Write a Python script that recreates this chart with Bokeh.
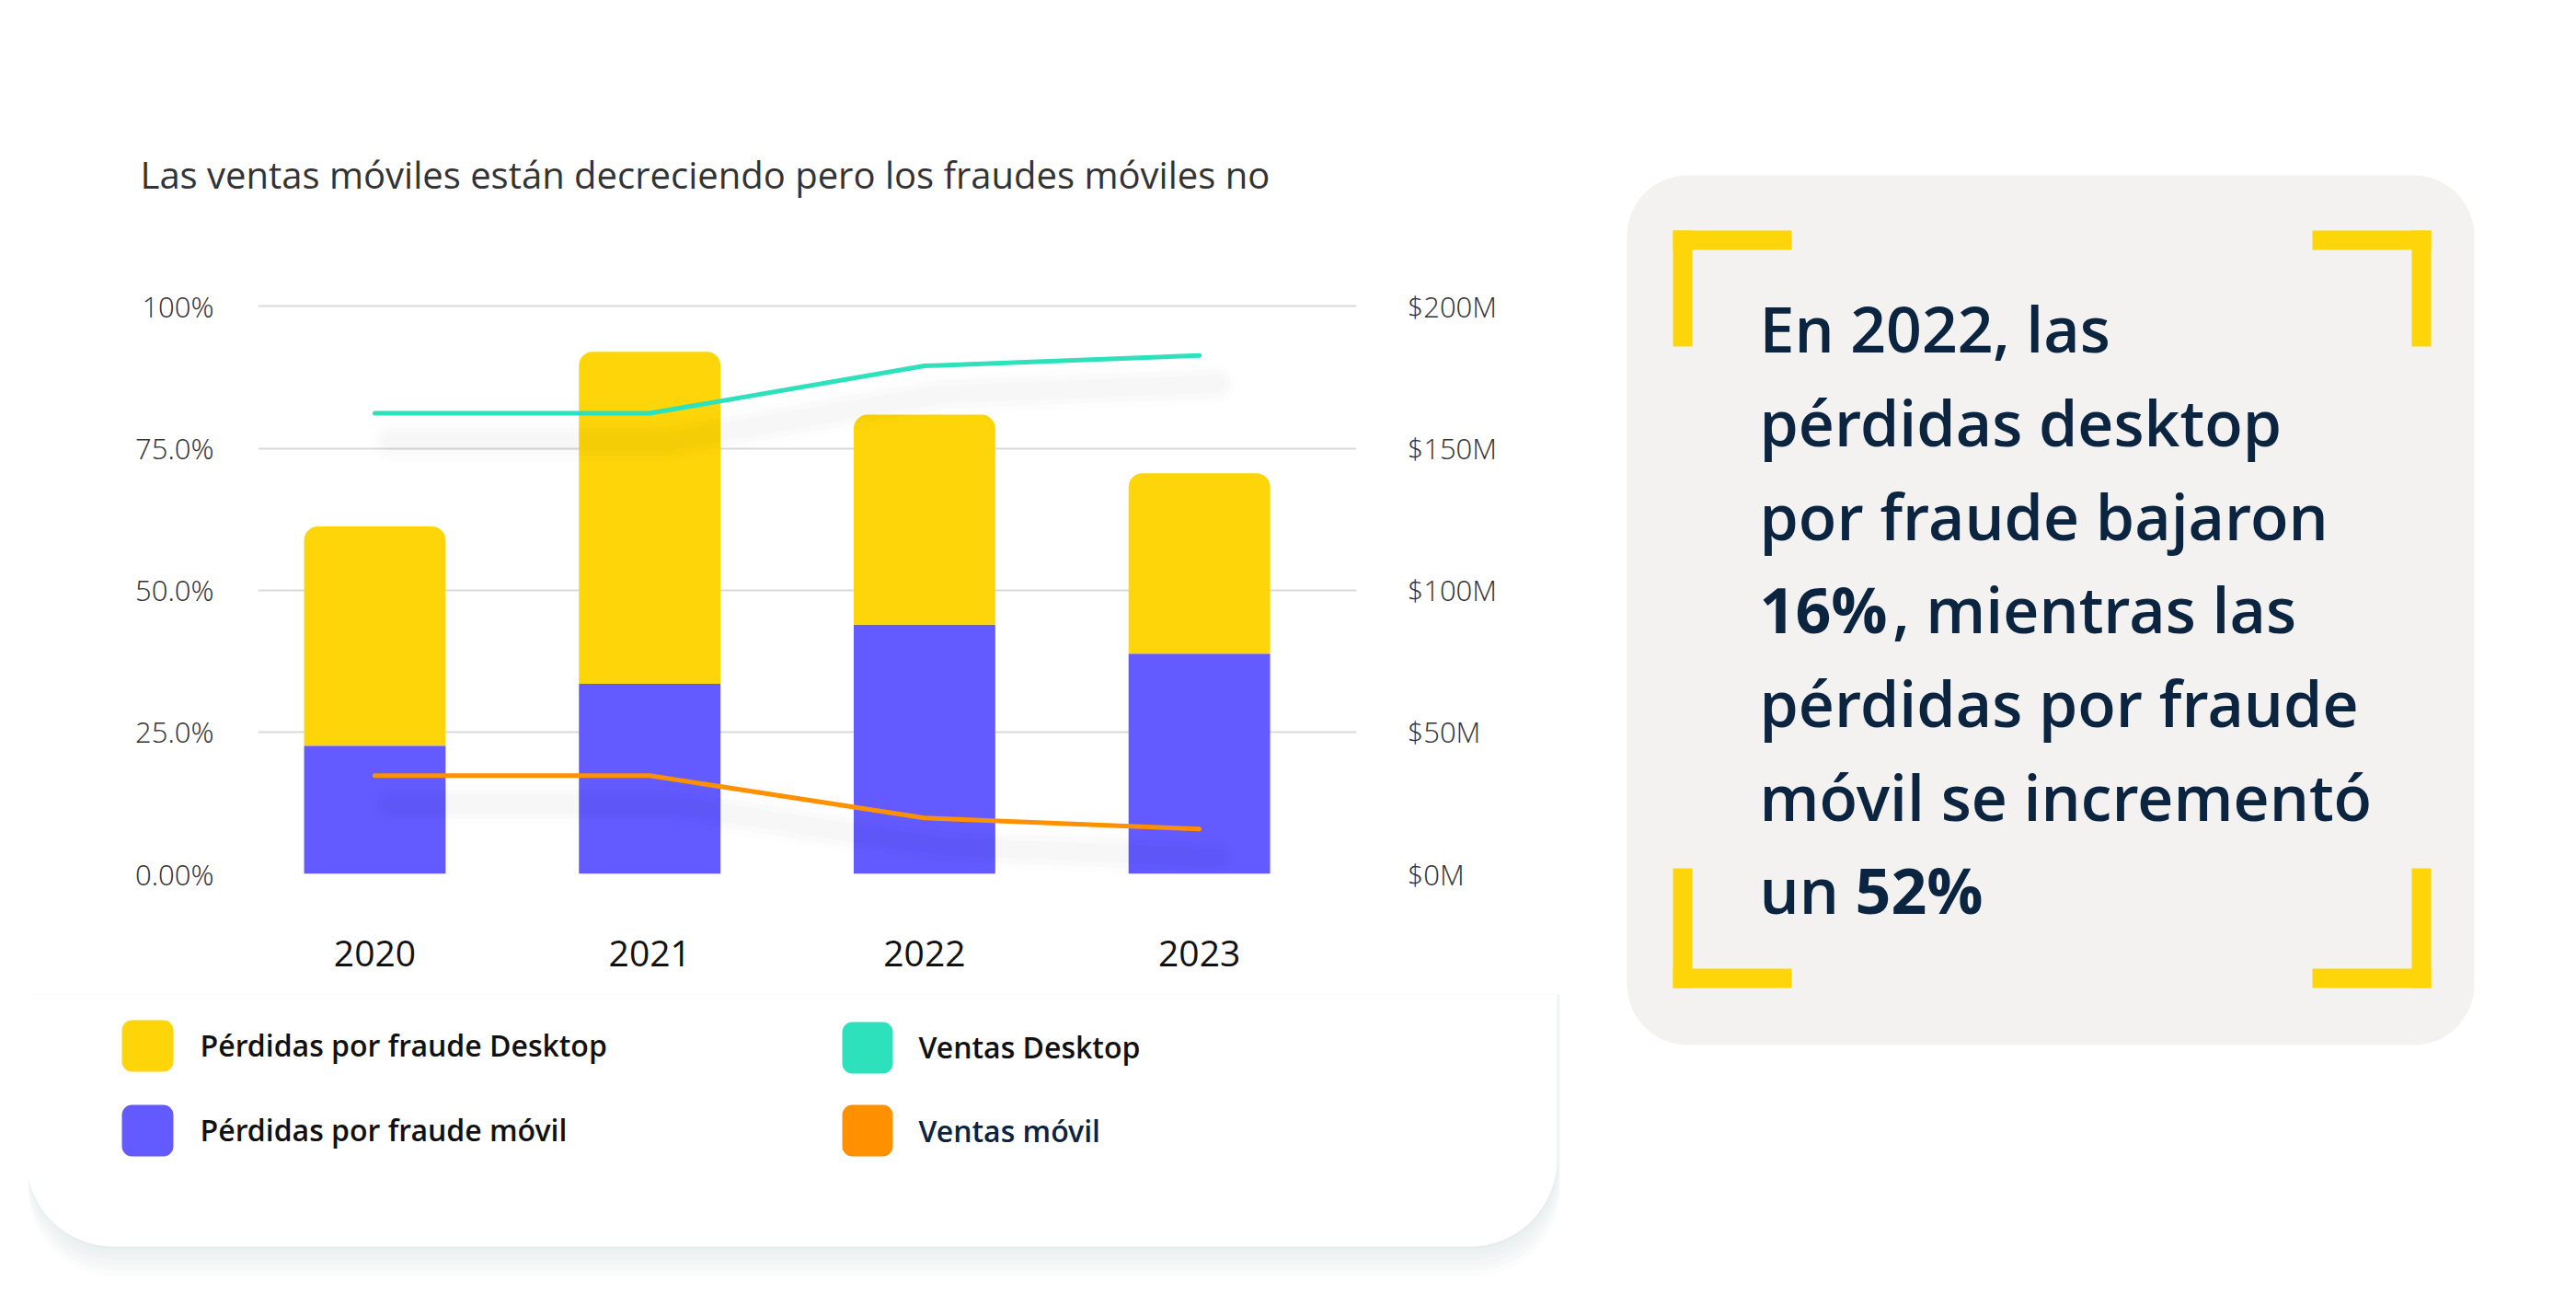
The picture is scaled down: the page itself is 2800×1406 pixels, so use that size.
from bokeh.plotting import figure
from bokeh.layouts import row, column
from bokeh.models import Range1d, LinearAxis, FixedTicker
from bokeh.core.properties import value
from bokeh.embed import file_html
from bokeh.resources import INLINE

# ---------------- data ----------------
years = ["2020", "2021", "2022", "2023"]
perdidas_movil = [22.6, 33.5, 43.9, 38.8]        # % (blue, bottom)
perdidas_desktop = [38.6, 58.5, 37.0, 31.8]      # % (yellow, stacked on top)
ventas_desktop = [162.3, 162.3, 179.0, 182.7]    # $M (teal line, right axis)
ventas_movil = [34.6, 34.6, 19.7, 15.8]          # $M (orange line, right axis)
pct_ticks = [0, 25, 50, 75, 100]
pct_labels = ["0.00%", "25.0%", "50.0%", "75.0%", "100%"]
money_ticks = [0, 50, 100, 150, 200]
money_labels = ["$0M", "$50M", "$100M", "$150M", "$200M"]
legend_labels = ["Pérdidas por fraude Desktop", "Pérdidas por fraude móvil",
                 "Ventas Desktop", "Ventas móvil"]
title_text = "Las ventas móviles están decreciendo pero los fraudes móviles no"
callout_lines = ["En 2022, las", "pérdidas desktop", "por fraude bajaron",
                 "16%", ", mientras las", "pérdidas por fraude",
                 "móvil se incrementó", "un ", "52%"]

# ---------------- style ----------------
YELLOW = "#FDD509"
BLUE = "#635BFF"
TEAL = "#2DE1BC"
ORANGE = "#FF9000"
NAVY = "#0B2440"
PANEL = "#F4F2F1"
GRID = "#D9D9D9"
SHADOW = "#7880A0"
LIGHT = "'Open Sans Light', 'Open Sans'"
SEMI = "'Open Sans SemiBold', 'Open Sans'"
BASE_FIX = 0.38   # svg text baseline correction (fraction of font size)

W, H = 2784, 1390
COL_W = 1740
TOP_H, CHART_H = 290, 790
CHART_TOP_PAD = 30


def canvas_fig(x0, x1, y0, y1):
    f = figure(width=x1 - x0, height=y1 - y0, x_range=Range1d(x0, x1),
               y_range=Range1d(y1, y0), output_backend="svg", toolbar_location=None,
               min_border=0, x_axis_type=None, y_axis_type=None, frame_align=False)
    f.title.visible = False
    f.outline_line_color = None
    f.background_fill_color = "white"
    f.border_fill_color = "white"
    return f


def txt(f, x, y, text, size, color, font, style="normal"):
    f.text(x=[x], y=[y - BASE_FIX * size], text=[text], text_font=value(font),
           text_font_size=f"{size}px", text_color=color, text_font_style=style,
           text_baseline="alphabetic", text_align="left")


CARD_L, CARD_R, CARD_T, CARD_B, CARD_RAD = 28, 1692, 83, 1354, 95

# ---------------- top part of the card (title) ----------------
top = canvas_fig(0, COL_W, 0, TOP_H)
top.quad(left=CARD_L, right=CARD_R, top=CARD_T, bottom=TOP_H + 50, fill_color="white",
         line_color=None, border_radius=(CARD_RAD, CARD_RAD, 0, 0))
txt(top, 152, 204, title_text, 40, "#333333", "Open Sans")

# ---------------- chart ----------------
xs = list(range(len(years)))
tops = [m + d for m, d in zip(perdidas_movil, perdidas_desktop)]

p = figure(width=COL_W, height=CHART_H, output_backend="svg", toolbar_location=None,
           x_range=Range1d(-0.425, 3.572), y_range=Range1d(0, 102),
           min_border_left=280, min_border_right=COL_W - 1474,
           min_border_top=CHART_TOP_PAD, min_border_bottom=131, frame_align=False)
p.title.visible = False
p.outline_line_color = None
p.background_fill_color = "white"
p.border_fill_color = "white"
p.extra_y_ranges = {"money": Range1d(0, 204)}

p.vbar(x=xs, width=0.515, bottom=0, top=perdidas_movil, fill_color=BLUE, line_color=None)
p.vbar(x=xs, width=0.515, bottom=perdidas_movil, top=tops, fill_color=YELLOW,
       line_color=None, border_radius=(15, 15, 0, 0))

for series in (ventas_desktop, ventas_movil):
    sx = [i + 0.06 for i in xs]
    sy = [v - 10 for v in series]
    for w, a in [(44, 0.009), (32, 0.011), (20, 0.013)]:
        p.line(sx, sy, y_range_name="money", line_color="black", line_alpha=a,
               line_width=w, line_cap="round", line_join="round")

p.line(xs, ventas_desktop, y_range_name="money", line_color=TEAL, line_width=5,
       line_cap="round", line_join="round")
p.line(xs, ventas_movil, y_range_name="money", line_color=ORANGE, line_width=5,
       line_cap="round", line_join="round")

p.xgrid.visible = False
p.ygrid.ticker = FixedTicker(ticks=pct_ticks)
p.ygrid.grid_line_color = GRID
p.ygrid.grid_line_width = 2

xa = p.xaxis[0]
xa.ticker = FixedTicker(ticks=xs)
xa.major_label_overrides = {i: y for i, y in zip(xs, years)}
xa.axis_line_color = None
xa.major_tick_line_color = None
xa.minor_tick_line_color = None
xa.major_label_text_font = "Open Sans"
xa.major_label_text_font_size = "39px"
xa.major_label_text_color = "#111111"
xa.major_label_standoff = 66

ya = p.yaxis[0]
ya.ticker = FixedTicker(ticks=pct_ticks)
ya.major_label_overrides = {t: s for t, s in zip(pct_ticks, pct_labels)}
ya.axis_line_color = None
ya.major_tick_line_color = None
ya.minor_tick_line_color = None
ya.major_label_text_font = LIGHT
ya.major_label_text_font_size = "31px"
ya.major_label_text_color = "#333333"
ya.major_label_standoff = 42

ra = LinearAxis(y_range_name="money", ticker=FixedTicker(ticks=money_ticks))
ra.major_label_overrides = {t: s for t, s in zip(money_ticks, money_labels)}
ra.axis_line_color = None
ra.major_tick_line_color = None
ra.minor_tick_line_color = None
ra.major_label_text_font = LIGHT
ra.major_label_text_font_size = "31px"
ra.major_label_text_color = "#333333"
ra.major_label_standoff = 49
p.add_layout(ra, "right")

# ---------------- bottom part of the card (legend) ----------------
y0b = TOP_H + CHART_H
bot = canvas_fig(0, COL_W, y0b, H)
for d in [32, 26, 20, 14, 8, 3]:
    bot.quad(left=CARD_L + 2, right=CARD_R + d * 0.12, top=y0b - 200,
             bottom=CARD_B + d, fill_color=SHADOW, fill_alpha=0.028, line_color=None,
             border_radius=(0, 0, CARD_RAD, CARD_RAD))
bot.quad(left=CARD_L, right=CARD_R, top=y0b - 200, bottom=CARD_B, fill_color="white",
         line_color=None, border_radius=(0, 0, CARD_RAD, CARD_RAD))

swatches = [(132, 188, 1108, 1164, YELLOW), (132, 188, 1200, 1256, BLUE),
            (915, 970, 1110, 1166, TEAL), (915, 970, 1200, 1256, ORANGE)]
for l, r, t, b, col in swatches:
    bot.quad(left=l, right=r, top=t, bottom=b, fill_color=col, line_color=None,
             border_radius=11)
leg_pos = [(217, 1147), (217, 1239), (998, 1149), (998, 1240)]
leg_col = ["#111111", "#111111", "#111111", NAVY]
for (x, y), t, col in zip(leg_pos, legend_labels, leg_col):
    txt(bot, x, y, t, 32, col, SEMI)

# ---------------- right callout panel ----------------
pan = canvas_fig(COL_W, W, 0, H)
pan.quad(left=1768, right=2689, top=190, bottom=1135, fill_color=PANEL, line_color=None,
         border_radius=66)
brackets = [
    (1818, 1947, 250, 271), (1818, 1839, 250, 376),
    (2513, 2642, 250, 271), (2621, 2642, 250, 376),
    (1818, 1839, 943, 1073), (1818, 1947, 1052, 1073),
    (2621, 2642, 943, 1073), (2513, 2642, 1052, 1073),
]
for l, r, t, b in brackets:
    pan.quad(left=l, right=r, top=t, bottom=b, fill_color=YELLOW, line_color=None)

CS = 68
base = [382, 484, 586, 687, 789, 891, 992]
txt(pan, 1912, base[0], callout_lines[0], CS, NAVY, SEMI)
txt(pan, 1912, base[1], callout_lines[1], CS, NAVY, SEMI)
txt(pan, 1912, base[2], callout_lines[2], CS, NAVY, SEMI)
txt(pan, 1912, base[3], callout_lines[3], CS, NAVY, "Open Sans", "bold")
txt(pan, 2057, base[3], callout_lines[4], CS, NAVY, SEMI)
txt(pan, 1912, base[4], callout_lines[5], CS, NAVY, SEMI)
txt(pan, 1912, base[5], callout_lines[6], CS, NAVY, SEMI)
txt(pan, 1912, base[6], callout_lines[7], CS, NAVY, SEMI)
txt(pan, 2016, base[6], callout_lines[8], CS, NAVY, "Open Sans", "bold")

layout = row(column(top, p, bot, spacing=0), pan, spacing=0)
open("out.html", "w").write(file_html(layout, INLINE))
